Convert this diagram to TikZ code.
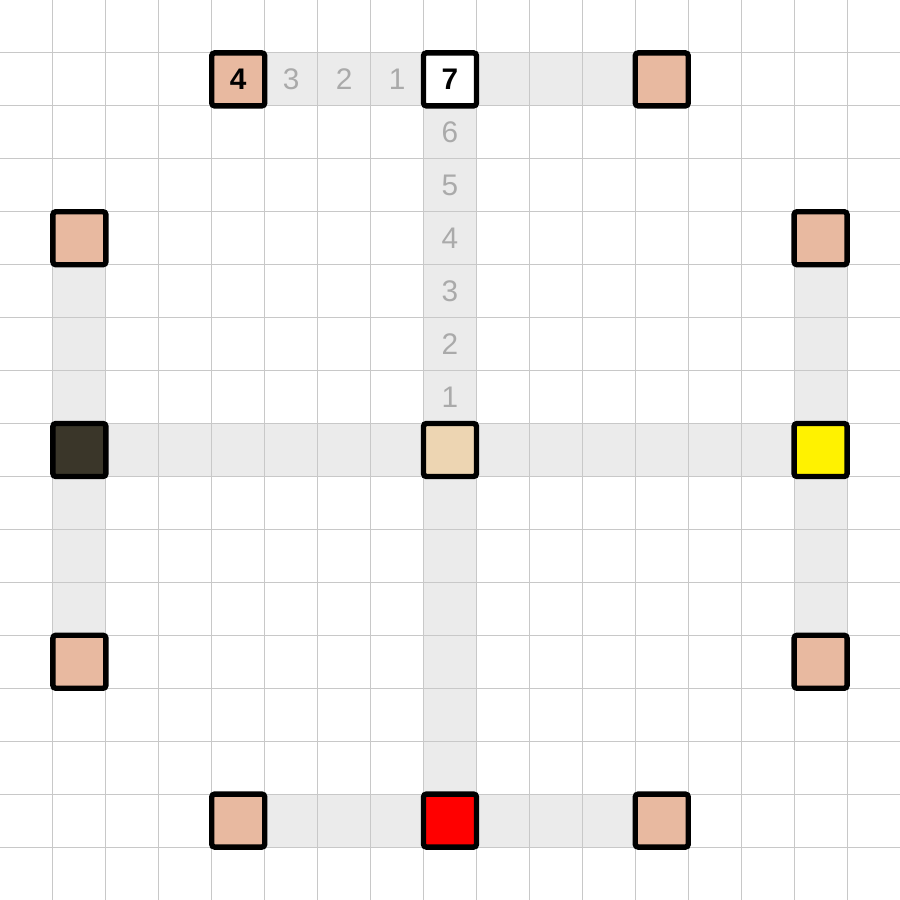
\documentclass[tikz,border=0pt]{standalone}
\usepackage{fontspec}
\setmainfont{Liberation Sans}
\definecolor{peach}{HTML}{E8B9A0}
\definecolor{sand}{HTML}{EDD5B2}
\definecolor{darkolive}{HTML}{3A3629}
\definecolor{bandgray}{HTML}{EBEBEB}
\definecolor{gridgray}{HTML}{C8C8C8}
\definecolor{numgray}{HTML}{AAAAAA}
\pgfdeclarelayer{bg}
\pgfsetlayers{bg,main}
\tikzset{
  cellbox/.style={draw=black, line width=2.9pt, rounded corners=1.5pt, minimum size=1cm, inner sep=0pt, font=\fontsize{16}{16}\selectfont\bfseries},
  band/.style={draw=bandgray, line width=1cm, line cap=butt},
  gridline/.style={draw=gridgray, line width=0.6pt},
  steplabel/.style={text=numgray, inner sep=0pt, font=\fontsize{16}{16}\selectfont},
}
\begin{document}
\begin{tikzpicture}
\useasboundingbox (0,0) rectangle (17,17);
% squares: cell (c,r) centre at (c+0.5, 16.5-r)
\node[cellbox, fill=peach] (a) at (4.5,15.5) {4};
\node[cellbox, fill=white] (b) at (8.5,15.5) {7};
\node[cellbox, fill=peach] (c) at (12.5,15.5) {};
\node[cellbox, fill=peach] (d) at (1.5,12.5) {};
\node[cellbox, fill=peach] (e) at (15.5,12.5) {};
\node[cellbox, fill=darkolive] (f) at (1.5,8.5) {};
\node[cellbox, fill=sand] (g) at (8.5,8.5) {};
\node[cellbox, fill=yellow] (h) at (15.5,8.5) {};
\node[cellbox, fill=peach] (i) at (1.5,4.5) {};
\node[cellbox, fill=peach] (j) at (15.5,4.5) {};
\node[cellbox, fill=peach] (k) at (4.5,1.5) {};
\node[cellbox, fill=red] (l) at (8.5,1.5) {};
\node[cellbox, fill=peach] (m) at (12.5,1.5) {};
% step numbers
\node[steplabel] (h3) at (5.5,15.5) {3};
\node[steplabel] (h2) at (6.5,15.5) {2};
\node[steplabel] (h1) at (7.5,15.5) {1};
\node[steplabel] (v6) at (8.5,14.5) {6};
\node[steplabel] (v5) at (8.5,13.5) {5};
\node[steplabel] (v4) at (8.5,12.5) {4};
\node[steplabel] (v3) at (8.5,11.5) {3};
\node[steplabel] (v2) at (8.5,10.5) {2};
\node[steplabel] (v1) at (8.5,9.5) {1};
\begin{pgfonlayer}{bg}
\fill[white] (0,0) rectangle (17,17);
\draw[band] (a.center) -- (c.center);
\draw[band] (b.center) -- (l.center);
\draw[band] (f.center) -- (h.center);
\draw[band] (d.center) -- (i.center);
\draw[band] (e.center) -- (j.center);
\draw[band] (k.center) -- (m.center);
\foreach \q in {1,...,16} {
  \draw[gridline] (\q,0) -- (\q,17);
  \draw[gridline] (0,\q) -- (17,\q);
}
\end{pgfonlayer}
\end{tikzpicture}
\end{document}
